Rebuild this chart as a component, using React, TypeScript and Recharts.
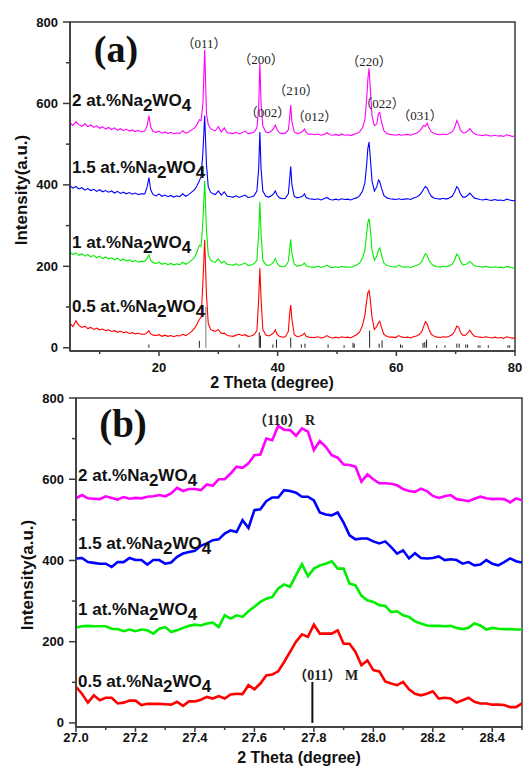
import React from 'react';
import {
  LineChart,
  Line,
  XAxis,
  YAxis,
  ReferenceLine,
  ReferenceArea,
  ReferenceDot,
} from 'recharts';

// ---- panel (a): full XRD patterns ----
const thetaA = [
  5, 5.5, 6, 6.5, 7, 7.5, 8, 8.5, 9, 9.5, 10, 10.5, 11, 11.5, 12, 12.5, 13, 13.5, 14, 14.5, 15, 15.5, 16, 16.5, 17,
  17.6, 18.0, 18.3, 18.6, 19.0, 19.5,
  20, 20.5, 21, 21.5, 22, 22.5, 23, 23.5, 24, 24.5, 25, 25.5,
  26.0, 26.4, 26.8, 27.1, 27.4, 27.7, 28.0, 28.3, 28.7, 29.1, 29.5, 30.0, 30.5, 31.0, 31.5, 32.0,
  32.5, 33, 33.5, 34, 34.5, 35, 35.5, 36.0,
  36.5, 36.8, 37.0, 37.2, 37.5, 38.0, 38.5, 39.0, 39.3, 39.6, 39.9, 40.3, 40.8, 41.3, 41.8, 42.0, 42.2, 42.4, 42.8, 43.3, 43.8, 44.2, 44.5, 44.8, 45.3, 45.8,
  46.3, 46.8, 47.3, 47.8, 48.3, 48.8, 49.3, 49.8, 50.3, 50.8, 51.3, 51.8, 52.3, 52.8, 53.3, 53.8, 54.3,
  54.7, 55.0, 55.2, 55.4, 55.6, 55.9, 56.3, 56.7, 57.0, 57.2, 57.5, 57.9, 58.4, 58.9,
  59.4, 59.9, 60.4, 60.9, 61.4, 61.9, 62.4, 62.9, 63.4, 63.9,
  64.3, 64.6, 64.9, 65.2, 65.5, 65.9, 66.4, 66.9, 67.4, 67.9, 68.4, 68.9, 69.4, 69.8,
  70.2, 70.5, 70.8, 71.2, 71.6, 72.0, 72.4, 72.7, 73.1, 73.6, 74.1, 74.6, 75.1, 75.6, 76.1, 76.6, 77.1, 77.6, 78.1, 78.6, 79.1, 79.6, 80.0,
];

const pct2A = [
  552, 546, 555, 548, 544, 550, 543, 547, 541, 545, 539, 543, 537, 541, 536, 540, 534, 538, 533, 537, 532, 535, 531, 534, 530,
  532, 545, 570, 542, 531, 529,
  532, 527, 530, 526, 529, 525, 528, 526, 533, 527, 530, 535,
  540, 548, 560, 558, 600, 732, 575, 548, 538, 535, 533, 543, 530, 540, 528, 527,
  526, 529, 525, 528, 532, 526, 527, 530,
  540, 590, 700, 600, 545, 530, 528, 533, 538, 547, 536, 528, 526, 527, 535, 560, 596, 555, 530, 526, 528, 531, 537, 529, 524, 525,
  523, 525, 522, 524, 528, 523, 522, 524, 521, 525, 522, 523, 521, 524, 526, 530, 540,
  560, 610, 660, 686, 640, 570, 545, 550, 575, 578, 555, 533, 526, 524,
  523, 522, 524, 522, 523, 524, 522, 525, 527, 532,
  540, 546, 544, 552, 540, 530, 526, 524, 523, 525, 523, 526, 530, 540,
  558, 548, 535, 528, 528, 532, 538, 532, 526, 523, 522, 521, 523, 521, 520, 522, 520, 521, 519, 523, 521, 519, 520,
];

const pct15A = [
  398, 392, 396, 390, 393, 387, 391, 386, 389, 384, 388, 383, 386, 382, 385, 380, 384, 379, 382, 378, 381, 377, 380, 376, 378,
  378, 395, 418, 388, 376, 373,
  378, 372, 375, 371, 374, 370, 373, 371, 378, 372, 376, 382,
  388, 398, 410, 420, 480, 570, 450, 395, 382, 378, 376, 385, 375, 383, 372, 371,
  370, 373, 369, 372, 375, 369, 370, 373,
  385, 440, 530, 440, 385, 372, 370, 374, 378, 385, 375, 368, 366, 367, 378, 410, 445, 400, 372, 368, 370, 372, 378, 369, 366, 365,
  364, 366, 363, 366, 369, 364, 363, 365, 363, 366, 364, 365, 363, 366, 368, 373, 385,
  405, 450, 490, 505, 470, 410, 385, 395, 412, 408, 392, 374, 368, 366,
  365, 364, 366, 364, 365, 366, 364, 368, 370, 375,
  382, 390, 396, 392, 382, 372, 367, 366, 365, 367, 365, 368, 372, 382,
  396, 390, 378, 370, 370, 374, 380, 375, 368, 366, 364, 363, 365, 363, 362, 364, 362, 363, 361, 365, 363, 361, 362,
];

const pct1A = [
  235, 229, 233, 227, 231, 225, 229, 223, 227, 221, 225, 219, 223, 218, 221, 216, 220, 214, 218, 213, 216, 211, 214, 210, 212,
  212, 220, 228, 214, 209, 207,
  210, 205, 208, 204, 207, 203, 206, 204, 210, 205, 209, 215,
  222, 235, 252, 250, 310, 410, 290, 228, 215, 211, 210, 218, 208, 212, 205, 204,
  203, 206, 202, 205, 208, 202, 203, 206,
  215, 280, 358, 280, 215, 204, 202, 206, 210, 219, 208, 201, 199, 200, 212, 240, 266, 232, 205, 200, 202, 204, 208, 201, 199, 198,
  198, 200, 197, 199, 203, 198, 197, 199, 197, 200, 198, 199, 197, 200, 203, 208, 220,
  240, 280, 308, 317, 295, 240, 215, 225, 240, 245, 228, 208, 202, 200,
  199, 198, 203, 199, 198, 199, 197, 200, 202, 206,
  212, 222, 231, 226, 215, 206, 201, 199, 198, 200, 199, 201, 205, 215,
  230, 225, 212, 204, 204, 207, 212, 208, 202, 200, 199, 198, 200, 198, 197, 199, 197, 198, 196, 200, 198, 196, 198,
];

const pct05A = [
  60, 52, 66, 55, 50, 53, 47, 50, 45, 48, 44, 46, 42, 44, 40, 42, 38, 41, 37, 39, 35, 37, 34, 36, 33,
  33, 37, 42, 34, 31, 30,
  32, 28, 31, 28, 30, 27, 30, 29, 33, 30, 34, 40,
  48, 58, 70, 75, 160, 265, 130, 60, 45, 42, 40, 45, 35, 36, 30, 29,
  28, 31, 33, 30, 32, 28, 29, 32,
  42, 120, 195, 120, 45, 31, 29, 33, 36, 44, 33, 28, 26, 27, 40, 80, 105, 70, 32, 27, 29, 31, 36, 28, 26, 25,
  25, 27, 24, 26, 30, 25, 24, 26, 24, 27, 25, 26, 24, 28, 32, 38, 55,
  80, 115, 135, 140, 120, 75, 45, 52, 62, 65, 50, 33, 28, 26,
  26, 25, 30, 26, 25, 26, 24, 27, 29, 33,
  40, 52, 64, 58, 45, 33, 28, 26, 25, 27, 26, 28, 32, 40,
  53, 50, 38, 31, 30, 36, 43, 36, 29, 27, 26, 25, 27, 25, 24, 26, 24, 25, 23, 27, 25, 23, 25,
];

// standard card sticks under the patterns
const stickTheta = [18.3, 26.8, 27.9, 33.5, 36.9, 37.1, 39.2, 39.8, 42.2, 44.0, 44.6, 48.5, 51.2, 52.7, 52.9, 55.5, 57.1, 57.6, 60.7, 61.0, 64.5, 64.8, 65.1, 66.8, 68.2, 70.2, 70.6, 71.7, 72.0, 73.8, 74.1, 75.5, 78.8, 79.1];
const stickHeight = [8, 17, 100, 8, 38, 30, 8, 20, 25, 8, 10, 8, 6, 12, 10, 42, 10, 18, 8, 6, 12, 14, 20, 6, 6, 10, 10, 8, 8, 6, 6, 6, 6, 6];

const hklLabels = ['（011）', '（200）', '（210）', '（002）', '（012）', '（220）', '（022）', '（031）'];
const hklTheta = [27.6, 37.2, 43.1, 38.3, 46.2, 55.4, 57.6, 64.0];
const hklLevel = [748, 707, 631, 577, 567, 702, 601, 570];

const samples = ['2', '1.5', '1', '0.5'];
const sampleLevelA = [594, 429, 245, 88];
const sampleLevelB = [595, 428, 265, 88];

// ---- panel (b): zoom on the main peak ----
const thetaB = [
  27.0, 27.02, 27.04, 27.06, 27.08, 27.1, 27.12, 27.14, 27.16, 27.18,
  27.2, 27.22, 27.24, 27.26, 27.28, 27.3, 27.32, 27.34, 27.36, 27.38,
  27.4, 27.42, 27.44, 27.46, 27.48, 27.5, 27.52, 27.54, 27.56, 27.58,
  27.6, 27.62, 27.64, 27.66, 27.68, 27.7, 27.72, 27.74, 27.76, 27.78,
  27.8, 27.82, 27.84, 27.86, 27.88, 27.9, 27.92, 27.94, 27.96, 27.98,
  28.0, 28.02, 28.04, 28.06, 28.08, 28.1, 28.12, 28.14, 28.16, 28.18,
  28.2, 28.22, 28.24, 28.26, 28.28, 28.3, 28.32, 28.34, 28.36, 28.38,
  28.4, 28.42, 28.44, 28.46, 28.48, 28.5,
];

const pct2B = [
  553, 561, 553, 552, 551, 558, 554, 550, 556, 552,
  554, 553, 557, 558, 561, 558, 565, 579, 571, 576,
  576, 573, 587, 584, 600, 600, 614, 631, 628, 639,
  659, 661, 700, 696, 731, 722, 721, 707, 725, 717,
  672, 694, 680, 659, 653, 636, 635, 631, 594, 612,
  600, 590, 590, 589, 585, 576, 571, 569, 577, 571,
  559, 554, 558, 561, 551, 549, 546, 552, 557, 553,
  551, 552, 551, 543, 553, 548,
];

const pct15B = [
  405, 406, 396, 394, 392, 392, 384, 396, 396, 406,
  401, 401, 390, 401, 401, 392, 395, 409, 417, 421,
  424, 436, 442, 450, 452, 466, 474, 470, 499, 480,
  524, 526, 546, 555, 555, 573, 571, 567, 557, 557,
  548, 518, 513, 511, 518, 493, 462, 452, 454, 454,
  447, 442, 447, 433, 417, 425, 405, 418, 406, 405,
  406, 410, 401, 403, 401, 392, 396, 388, 390, 401,
  392, 388, 396, 405, 398, 395,
];

const pct1B = [
  235, 238, 239, 238, 238, 238, 232, 231, 226, 230,
  226, 230, 228, 220, 232, 236, 224, 228, 234, 239,
  242, 240, 245, 247, 236, 265, 257, 265, 261, 275,
  286, 298, 306, 310, 331, 341, 335, 364, 391, 361,
  380, 388, 392, 398, 380, 380, 343, 339, 313, 302,
  298, 290, 288, 273, 275, 265, 261, 250, 245, 240,
  239, 239, 238, 239, 234, 231, 234, 245, 240, 230,
  234, 232, 231, 231, 230, 230,
];

const pct05B = [
  89, 72, 50, 68, 56, 62, 62, 48, 50, 55,
  55, 44, 47, 47, 47, 46, 45, 52, 42, 53,
  53, 57, 64, 60, 66, 60, 70, 72, 71, 93,
  83, 97, 117, 119, 127, 150, 175, 200, 218, 212,
  242, 220, 220, 220, 228, 195, 195, 175, 142, 154,
  130, 127, 102, 97, 93, 101, 83, 72, 68, 72,
  78, 60, 62, 60, 50, 56, 62, 52, 48, 48,
  45, 45, 44, 39, 39, 48,
];

const markM = 27.795;
const markMHeight = 101;

const xTicksA = [10, 20, 30, 40, 50, 60, 70, 80];
const xTicksB = [27.0, 27.1, 27.2, 27.3, 27.4, 27.5, 27.6, 27.7, 27.8, 27.9, 28.0, 28.1, 28.2, 28.3, 28.4, 28.5];
const yTicks = [0, 100, 200, 300, 400, 500, 600, 700, 800];

const COLORS = ['#ff00ff', '#0000ff', '#00ee00', '#ff0000'];
const AXIS = '#3a3a3a';
const SANS = 'Arial, "Liberation Sans", Helvetica, sans-serif';
const SERIF = '"Liberation Serif", "Times New Roman", "Noto Sans CJK SC", serif';

const dataA = thetaA.map((t, i) => ({ t, s2: pct2A[i], s15: pct15A[i], s1: pct1A[i], s05: pct05A[i] }));
const dataB = thetaB.map((t, i) => ({ t, s2: pct2B[i], s15: pct15B[i], s1: pct1B[i], s05: pct05B[i] }));
const keys = ['s2', 's15', 's1', 's05'];

function makeXTick(isMajor: (v: number) => boolean, fmt: (v: number) => string, labelDy: number) {
  return (props: any) => {
    const { x = 0, y = 0, payload } = props;
    const v = payload?.value ?? 0;
    const major = isMajor(v);
    return (
      <g>
        <line x1={x} x2={x} y1={y} y2={y + (major ? 5 : 3)} stroke={AXIS} strokeWidth={1.5} />
        {major && (
          <text x={x} y={y + labelDy} textAnchor="middle" dominantBaseline="central" fontFamily={SANS} fontWeight="bold" fontSize={13} fill="#111">
            {fmt(v)}
          </text>
        )}
      </g>
    );
  };
}

function YTick(props: any) {
  const { x = 0, y = 0, payload } = props;
  const v = payload?.value ?? 0;
  const major = v % 200 === 0;
  return (
    <g>
      <line x1={x} x2={x - (major ? 7 : 4)} y1={y} y2={y} stroke={AXIS} strokeWidth={1.5} />
      {major && (
        <text x={x - 12} y={y} textAnchor="end" dominantBaseline="central" fontFamily={SANS} fontWeight="bold" fontSize={13} fill="#111">
          {v}
        </text>
      )}
    </g>
  );
}

function sampleShape(name: string) {
  return (p: any) => (
    <text x={p.cx + 2} y={p.cy} fontFamily={SANS} fontWeight="bold" fontSize={17} fill="#111">
      {name} at.%Na<tspan dy={5}>2</tspan>
      <tspan dy={-5}>WO</tspan>
      <tspan dy={5}>4</tspan>
    </text>
  );
}

function centerText(label: string, size: number, weight = 'normal') {
  return (p: any) => (
    <text x={p.cx} y={p.cy} textAnchor="middle" dominantBaseline="central" fontFamily={SERIF} fontWeight={weight} fontSize={size} fill="#222">
      {label}
    </text>
  );
}

const XTickA = makeXTick((v) => v % 20 === 0, (v) => String(v), 16);
const XTickB = makeXTick((v) => Math.round(v * 10) % 2 === 0, (v) => v.toFixed(1), 10);

export default function App() {
  return (
    <div style={{ position: 'absolute', left: 0, top: 0, width: 525, height: 767, background: '#fff', overflow: 'hidden' }}>
      <div style={{ position: 'absolute', left: 0, top: 0 }}>
        <LineChart width={525} height={385} data={dataA} margin={{ top: 22, right: 10, bottom: 8, left: 0 }}>
          <XAxis
            dataKey="t"
            type="number"
            domain={[5, 80]}
            ticks={xTicksA}
            interval={0}
            allowDataOverflow
            height={26}
            tickSize={0}
            tickMargin={0}
            tickLine={false}
            axisLine={{ stroke: AXIS, strokeWidth: 1.5 }}
            tick={XTickA}
          />
          <YAxis
            type="number"
            domain={[-8, 800]}
            ticks={yTicks}
            interval={0}
            allowDataOverflow
            width={70}
            tickSize={0}
            tickMargin={0}
            tickLine={false}
            axisLine={{ stroke: AXIS, strokeWidth: 1.5 }}
            tick={YTick}
          />
          <ReferenceArea x1={5} x2={80} y1={-8} y2={800} fill="none" fillOpacity={0} stroke={AXIS} strokeWidth={1.5} />
          {stickTheta.map((t, i) => (
            <ReferenceLine
              key={`st${i}`}
              segment={[{ x: t, y: 0 }, { x: t, y: stickHeight[i] }]}
              stroke={stickHeight[i] > 60 ? '#777' : '#222'}
              strokeWidth={1}
            />
          ))}
          {keys.map((k, i) => (
            <Line key={k} dataKey={k} type="linear" stroke={COLORS[i]} strokeWidth={1.1} dot={false} isAnimationActive={false} />
          ))}
          {hklLabels.map((h, i) => (
            <ReferenceDot key={`h${i}`} x={hklTheta[i]} y={hklLevel[i]} r={0} shape={centerText(h, 13)} />
          ))}
          {samples.map((s, i) => (
            <ReferenceDot key={`sa${i}`} x={5} y={sampleLevelA[i]} r={0} shape={sampleShape(s)} />
          ))}
        </LineChart>
      </div>

      <div style={{ position: 'absolute', left: 0, top: 385 }}>
        <LineChart width={525} height={382} data={dataB} margin={{ top: 13, right: 3, bottom: 10, left: 0 }}>
          <XAxis
            dataKey="t"
            type="number"
            domain={[27, 28.5]}
            ticks={xTicksB}
            interval={0}
            allowDataOverflow
            height={30}
            tickSize={0}
            tickMargin={0}
            tickLine={false}
            axisLine={{ stroke: AXIS, strokeWidth: 1.5 }}
            tick={XTickB}
          />
          <YAxis
            type="number"
            domain={[-10, 800]}
            ticks={yTicks}
            interval={0}
            allowDataOverflow
            width={76}
            tickSize={0}
            tickMargin={0}
            tickLine={false}
            axisLine={{ stroke: AXIS, strokeWidth: 1.5 }}
            tick={YTick}
          />
          <ReferenceArea x1={27} x2={28.5} y1={-10} y2={800} fill="none" fillOpacity={0} stroke={AXIS} strokeWidth={1.5} />
          <ReferenceLine segment={[{ x: markM, y: 0 }, { x: markM, y: markMHeight }]} stroke="#111" strokeWidth={2} />
          {keys.map((k, i) => (
            <Line key={k} dataKey={k} type="linear" stroke={COLORS[i]} strokeWidth={2.6} dot={false} isAnimationActive={false} />
          ))}
          <ReferenceDot x={27.7} y={745} r={0} shape={centerText('（110） R', 14, 'bold')} />
          <ReferenceDot x={27.84} y={117} r={0} shape={centerText('（011） M', 14, 'bold')} />
          {samples.map((s, i) => (
            <ReferenceDot key={`sb${i}`} x={27} y={sampleLevelB[i]} r={0} shape={sampleShape(s)} />
          ))}
        </LineChart>
      </div>

      <svg width={525} height={767} style={{ position: 'absolute', left: 0, top: 0, pointerEvents: 'none' }}>
        <text x={116} y={62} textAnchor="middle" fontFamily={SERIF} fontWeight="bold" fontSize={38} fill="#111">(a)</text>
        <text x={123} y={437} textAnchor="middle" fontFamily={SERIF} fontWeight="bold" fontSize={39} fill="#111">(b)</text>
        <text x={272} y={382} textAnchor="middle" dominantBaseline="central" fontFamily={SANS} fontWeight="bold" fontSize={16} fill="#111">2 Theta (degree)</text>
        <text x={299} y={757} textAnchor="middle" dominantBaseline="central" fontFamily={SANS} fontWeight="bold" fontSize={16} fill="#111">2 Theta (degree)</text>
        <text transform="translate(21,190) rotate(-90)" textAnchor="middle" dominantBaseline="central" fontFamily={SANS} fontWeight="bold" fontSize={17} fill="#111">Intensity(a.u.)</text>
        <text transform="translate(27,575) rotate(-90)" textAnchor="middle" dominantBaseline="central" fontFamily={SANS} fontWeight="bold" fontSize={17} fill="#111">Intensity(a.u.)</text>
      </svg>
    </div>
  );
}
